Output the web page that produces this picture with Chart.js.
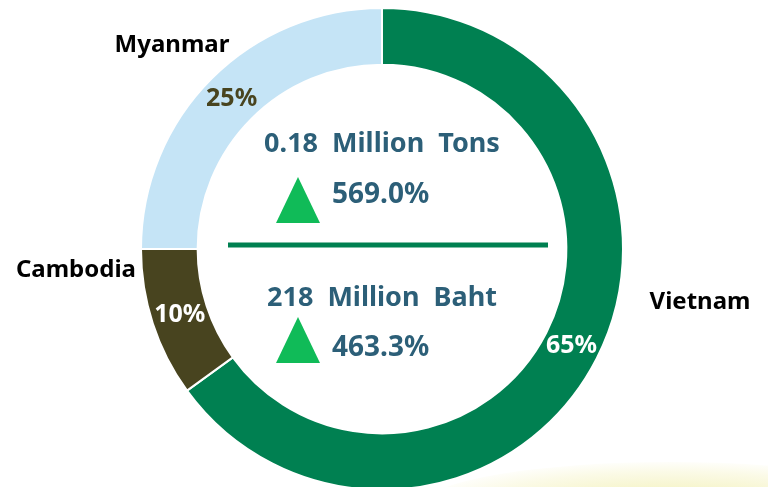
<!DOCTYPE html>
<html>
<head>
<meta charset="utf-8">
<script src="https://cdn.jsdelivr.net/npm/chart.js@4/dist/chart.umd.min.js"></script>
<style>
  html, body { margin: 0; padding: 0; background: #fff; overflow: hidden; }
  #wrap { position: relative; width: 768px; height: 487px; overflow: hidden; }
  #glow { position: absolute; left: 420px; top: 462px; width: 500px; height: 90px; border-radius: 50%;
          background: radial-gradient(ellipse at 50% 50%, rgba(238,236,160,0.85), rgba(246,244,200,0.45) 55%, rgba(255,255,255,0) 75%); }
  #box { position: absolute; left: 0; top: 0; width: 768px; height: 500px; }
</style>
</head>
<body>
<div id="wrap">
  <div id="glow"></div>
  <div id="box"><canvas id="c"></canvas></div>
</div>
<script>
// countries, clockwise from 12 o'clock
const countries = ['Vietnam', 'Cambodia', 'Myanmar'];
const shares = [65, 10, 25];
const sliceColors = ['#008051', '#48441f', '#c5e4f6'];
const pctColors = ['#ffffff', '#ffffff', '#48441f'];

// centre summary
const volumeText = '0.18  Million  Tons';
const volumeGrowth = '569.0%';
const valueText = '218  Million  Baht';
const valueGrowth = '463.3%';

const FONT = '"Noto Sans", "Open Sans", sans-serif';

// hand placed outside names (offset from centre, like the original slide)
const nameSpots = {
  Vietnam: [318, 53, 'center'],
  Cambodia: [-246, 21, 'right'],
  Myanmar: [-210, -204, 'center']
};

const labelPlugin = {
  id: 'labels',
  afterDatasetsDraw(chart) {
    const ctx = chart.ctx;
    const meta = chart.getDatasetMeta(0);
    const cx = meta.data[0].x, cy = meta.data[0].y;
    ctx.save();
    ctx.textBaseline = 'middle';

    meta.data.forEach((arc, i) => {
      const p = arc.tooltipPosition();
      ctx.font = 'bold 25px ' + FONT;
      ctx.fillStyle = pctColors[i];
      ctx.textAlign = 'center';
      ctx.fillText(shares[i] + '%', p.x, p.y);

      const s = nameSpots[countries[i]];
      ctx.font = 'bold 24px ' + FONT;
      ctx.fillStyle = '#000';
      ctx.textAlign = s[2];
      ctx.fillText(countries[i], cx + s[0], cy + s[1]);
    });

    // centre text
    ctx.fillStyle = '#2c5f78';
    ctx.textAlign = 'center';
    ctx.font = 'bold 27px ' + FONT;
    ctx.fillText(volumeText, cx, cy - 105);
    ctx.fillText(valueText, cx, cy + 49);
    ctx.textAlign = 'left';
    ctx.font = 'bold 28px ' + FONT;
    ctx.fillText(volumeGrowth, cx - 50, cy - 54);
    ctx.fillText(valueGrowth, cx - 50, cy + 99);

    // up arrows
    ctx.fillStyle = '#10bb58';
    [[-72, -26], [68, 114]].forEach(t => {
      ctx.beginPath();
      ctx.moveTo(cx - 84, cy + t[0]);
      ctx.lineTo(cx - 62, cy + t[1]);
      ctx.lineTo(cx - 106, cy + t[1]);
      ctx.closePath();
      ctx.fill();
    });

    // divider
    ctx.strokeStyle = '#008051';
    ctx.lineWidth = 5;
    ctx.beginPath();
    ctx.moveTo(cx - 154, cy - 4);
    ctx.lineTo(cx + 166, cy - 4);
    ctx.stroke();
    ctx.restore();
  }
};

new Chart(document.getElementById('c'), {
  type: 'doughnut',
  data: {
    labels: countries,
    datasets: [{
      data: shares,
      backgroundColor: sliceColors,
      borderColor: '#ffffff',
      borderWidth: 2
    }]
  },
  options: {
    responsive: true,
    maintainAspectRatio: false,
    animation: false,
    cutout: '76.5%',
    layout: { padding: { left: 140, right: 144, top: 7, bottom: 9 } },
    plugins: { legend: { display: false }, tooltip: { enabled: false } }
  },
  plugins: [labelPlugin]
});
</script>
</body>
</html>
